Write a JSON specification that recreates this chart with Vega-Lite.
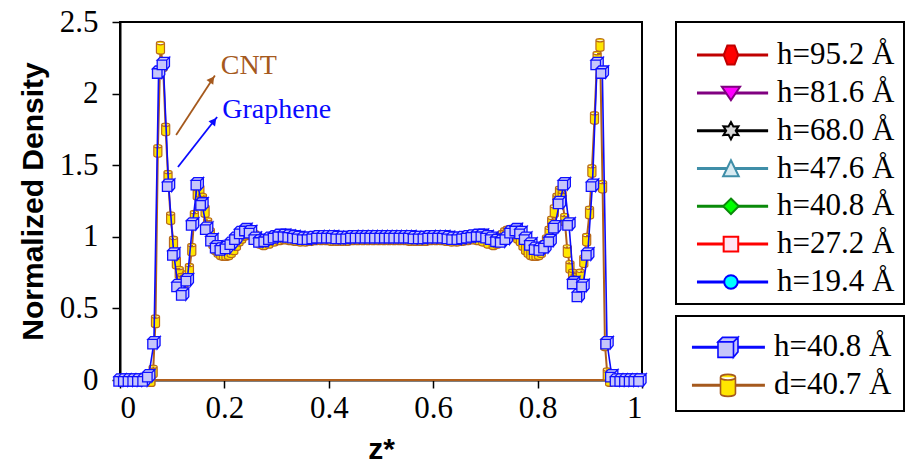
{
  "$schema": "https://vega.github.io/schema/vega-lite/v6.json",
  "background": "white",
  "padding": {"left": 17, "top": 5, "right": 1, "bottom": 2},
  "autosize": {"type": "pad"},
  "bounds": "flush",
  "spacing": 34,
  "config": {
    "view": {"stroke": "black", "strokeWidth": 2},
    "axis": {
      "grid": false,
      "domainColor": "black",
      "domainWidth": 2,
      "tickColor": "black",
      "tickWidth": 1.5,
      "tickSize": 8,
      "labelFont": "Liberation Serif",
      "labelFontSize": 31,
      "labelColor": "black",
      "labelPadding": 4,
      "titleFont": "Liberation Sans",
      "titleFontSize": 30,
      "titleFontWeight": "bold",
      "titleColor": "black"
    }
  },
  "datasets": {
    "graphene": [
      {"z": 0.000, "v": 0}, {"z": 0.009, "v": 0}, {"z": 0.018, "v": 0}, {"z": 0.027, "v": 0}, {"z": 0.036, "v": 0}, {"z": 0.046, "v": 0},
      {"z": 0.055, "v": 0.03}, {"z": 0.065, "v": 0.26}, {"z": 0.074, "v": 2.15}, {"z": 0.083, "v": 2.21}, {"z": 0.093, "v": 1.36},
      {"z": 0.103, "v": 0.88}, {"z": 0.111, "v": 0.66}, {"z": 0.120, "v": 0.60}, {"z": 0.129, "v": 0.70}, {"z": 0.139, "v": 1.09},
      {"z": 0.148, "v": 1.37}, {"z": 0.157, "v": 1.23}, {"z": 0.166, "v": 1.06}, {"z": 0.176, "v": 0.98}, {"z": 0.185, "v": 0.93},
      {"z": 0.194, "v": 0.915}, {"z": 0.204, "v": 0.925}, {"z": 0.213, "v": 0.955}, {"z": 0.222, "v": 0.99}, {"z": 0.231, "v": 1.03},
      {"z": 0.241, "v": 1.05}, {"z": 0.250, "v": 1.035}, {"z": 0.259, "v": 0.99}, {"z": 0.268, "v": 0.97}, {"z": 0.278, "v": 0.975},
      {"z": 0.287, "v": 0.99}, {"z": 0.296, "v": 1.0}, {"z": 0.305, "v": 1.01}, {"z": 0.315, "v": 1.01}, {"z": 0.324, "v": 1.005},
      {"z": 0.333, "v": 1.0}, {"z": 0.342, "v": 0.995}, {"z": 0.352, "v": 0.99}, {"z": 0.361, "v": 0.99}, {"z": 0.370, "v": 0.995},
      {"z": 0.379, "v": 1.0}, {"z": 0.389, "v": 1.0}, {"z": 0.398, "v": 1.0}, {"z": 0.407, "v": 1.0}, {"z": 0.416, "v": 0.995},
      {"z": 0.426, "v": 0.995}, {"z": 0.435, "v": 0.995}, {"z": 0.444, "v": 1.0}, {"z": 0.453, "v": 1.0}, {"z": 0.463, "v": 1.0},
      {"z": 0.472, "v": 1.0}, {"z": 0.481, "v": 1.0}, {"z": 0.490, "v": 1.0}, {"z": 0.500, "v": 1.0}, {"z": 0.509, "v": 1.0},
      {"z": 0.518, "v": 1.0}, {"z": 0.527, "v": 1.0}, {"z": 0.537, "v": 1.0}, {"z": 0.546, "v": 1.0}, {"z": 0.555, "v": 1.0},
      {"z": 0.564, "v": 0.995}, {"z": 0.574, "v": 0.995}, {"z": 0.583, "v": 0.995}, {"z": 0.592, "v": 1.0}, {"z": 0.601, "v": 1.0},
      {"z": 0.611, "v": 1.0}, {"z": 0.620, "v": 1.0}, {"z": 0.629, "v": 0.995}, {"z": 0.638, "v": 0.99}, {"z": 0.648, "v": 0.99},
      {"z": 0.657, "v": 0.995}, {"z": 0.666, "v": 1.0}, {"z": 0.675, "v": 1.005}, {"z": 0.685, "v": 1.01}, {"z": 0.694, "v": 1.01},
      {"z": 0.703, "v": 1.0}, {"z": 0.712, "v": 0.99}, {"z": 0.722, "v": 0.975}, {"z": 0.731, "v": 0.97}, {"z": 0.740, "v": 0.99},
      {"z": 0.749, "v": 1.035}, {"z": 0.759, "v": 1.05}, {"z": 0.768, "v": 1.03}, {"z": 0.777, "v": 0.99}, {"z": 0.787, "v": 0.95},
      {"z": 0.796, "v": 0.92}, {"z": 0.805, "v": 0.915}, {"z": 0.814, "v": 0.93}, {"z": 0.824, "v": 0.975}, {"z": 0.833, "v": 1.07},
      {"z": 0.842, "v": 1.24}, {"z": 0.851, "v": 1.37}, {"z": 0.860, "v": 1.09}, {"z": 0.869, "v": 0.68}, {"z": 0.878, "v": 0.59},
      {"z": 0.887, "v": 0.66}, {"z": 0.896, "v": 0.88}, {"z": 0.905, "v": 1.36}, {"z": 0.914, "v": 2.21}, {"z": 0.924, "v": 2.15},
      {"z": 0.933, "v": 0.26}, {"z": 0.942, "v": 0.03}, {"z": 0.951, "v": 0}, {"z": 0.960, "v": 0}, {"z": 0.969, "v": 0},
      {"z": 0.978, "v": 0}, {"z": 0.987, "v": 0}, {"z": 0.996, "v": 0}
    ],
    "cnt": [
      {"o": 1, "z": 0.059, "v": 0}, {"o": 2, "z": 0.0635, "v": 0.06}, {"o": 3, "z": 0.068, "v": 0.41}, {"o": 4, "z": 0.0725, "v": 1.60},
      {"o": 5, "z": 0.0775, "v": 2.32}, {"o": 6, "z": 0.0825, "v": 2.20}, {"o": 7, "z": 0.0875, "v": 1.75}, {"o": 8, "z": 0.092, "v": 1.42},
      {"o": 9, "z": 0.097, "v": 1.13}, {"o": 10, "z": 0.1025, "v": 0.96}, {"o": 11, "z": 0.108, "v": 0.82}, {"o": 12, "z": 0.1135, "v": 0.75},
      {"o": 13, "z": 0.118, "v": 0.70}, {"o": 14, "z": 0.123, "v": 0.69}, {"o": 15, "z": 0.128, "v": 0.72}, {"o": 16, "z": 0.133, "v": 0.77},
      {"o": 17, "z": 0.1375, "v": 0.91}, {"o": 18, "z": 0.1425, "v": 1.14}, {"o": 19, "z": 0.148, "v": 1.30}, {"o": 20, "z": 0.153, "v": 1.32},
      {"o": 21, "z": 0.158, "v": 1.26}, {"o": 22, "z": 0.163, "v": 1.18}, {"o": 23, "z": 0.168, "v": 1.09}, {"o": 24, "z": 0.173, "v": 1.02},
      {"o": 25, "z": 0.178, "v": 0.96}, {"o": 26, "z": 0.183, "v": 0.92}, {"o": 27, "z": 0.188, "v": 0.90}, {"o": 28, "z": 0.193, "v": 0.885},
      {"o": 29, "z": 0.198, "v": 0.88}, {"o": 30, "z": 0.203, "v": 0.88}, {"o": 31, "z": 0.208, "v": 0.885}, {"o": 32, "z": 0.213, "v": 0.90},
      {"o": 33, "z": 0.218, "v": 0.92}, {"o": 34, "z": 0.223, "v": 0.95}, {"o": 35, "z": 0.228, "v": 0.98}, {"o": 36, "z": 0.233, "v": 1.00},
      {"o": 37, "z": 0.238, "v": 1.02}, {"o": 38, "z": 0.243, "v": 1.03}, {"o": 39, "z": 0.248, "v": 1.03}, {"o": 40, "z": 0.253, "v": 1.02},
      {"o": 41, "z": 0.258, "v": 1.00}, {"o": 42, "z": 0.263, "v": 0.98}, {"o": 43, "z": 0.268, "v": 0.965}, {"o": 44, "z": 0.275, "v": 0.955},
      {"o": 45, "z": 0.285, "v": 0.965}, {"o": 46, "z": 0.295, "v": 0.98}, {"o": 47, "z": 0.305, "v": 0.99}, {"o": 48, "z": 0.315, "v": 0.995},
      {"o": 49, "z": 0.325, "v": 0.99}, {"o": 50, "z": 0.335, "v": 0.985}, {"o": 51, "z": 0.345, "v": 0.98}, {"o": 52, "z": 0.355, "v": 0.98},
      {"o": 53, "z": 0.365, "v": 0.985}, {"o": 54, "z": 0.375, "v": 0.99}, {"o": 55, "z": 0.385, "v": 0.99}, {"o": 56, "z": 0.395, "v": 0.99},
      {"o": 57, "z": 0.405, "v": 0.985}, {"o": 58, "z": 0.415, "v": 0.985}, {"o": 59, "z": 0.425, "v": 0.985}, {"o": 60, "z": 0.435, "v": 0.985},
      {"o": 61, "z": 0.445, "v": 0.99}, {"o": 62, "z": 0.455, "v": 0.99}, {"o": 63, "z": 0.465, "v": 0.99}, {"o": 64, "z": 0.475, "v": 0.99},
      {"o": 65, "z": 0.485, "v": 0.99}, {"o": 66, "z": 0.495, "v": 0.99}, {"o": 67, "z": 0.505, "v": 0.99}, {"o": 68, "z": 0.515, "v": 0.99},
      {"o": 69, "z": 0.525, "v": 0.99}, {"o": 70, "z": 0.535, "v": 0.99}, {"o": 71, "z": 0.545, "v": 0.99}, {"o": 72, "z": 0.555, "v": 0.985},
      {"o": 73, "z": 0.565, "v": 0.985}, {"o": 74, "z": 0.575, "v": 0.985}, {"o": 75, "z": 0.585, "v": 0.985}, {"o": 76, "z": 0.595, "v": 0.99},
      {"o": 77, "z": 0.605, "v": 0.99}, {"o": 78, "z": 0.615, "v": 0.99}, {"o": 79, "z": 0.625, "v": 0.985}, {"o": 80, "z": 0.635, "v": 0.98},
      {"o": 81, "z": 0.645, "v": 0.98}, {"o": 82, "z": 0.655, "v": 0.985}, {"o": 83, "z": 0.665, "v": 0.99}, {"o": 84, "z": 0.675, "v": 0.995},
      {"o": 85, "z": 0.685, "v": 0.99}, {"o": 86, "z": 0.695, "v": 0.98}, {"o": 87, "z": 0.705, "v": 0.965}, {"o": 88, "z": 0.715, "v": 0.955},
      {"o": 89, "z": 0.722, "v": 0.965}, {"o": 90, "z": 0.727, "v": 0.98}, {"o": 91, "z": 0.732, "v": 1.00}, {"o": 92, "z": 0.737, "v": 1.02},
      {"o": 93, "z": 0.742, "v": 1.03}, {"o": 94, "z": 0.747, "v": 1.035}, {"o": 95, "z": 0.752, "v": 1.03}, {"o": 96, "z": 0.757, "v": 1.02},
      {"o": 97, "z": 0.762, "v": 1.00}, {"o": 98, "z": 0.767, "v": 0.98}, {"o": 99, "z": 0.772, "v": 0.95}, {"o": 100, "z": 0.777, "v": 0.92},
      {"o": 101, "z": 0.782, "v": 0.90}, {"o": 102, "z": 0.787, "v": 0.885}, {"o": 103, "z": 0.792, "v": 0.88}, {"o": 104, "z": 0.797, "v": 0.88},
      {"o": 105, "z": 0.802, "v": 0.885}, {"o": 106, "z": 0.807, "v": 0.90}, {"o": 107, "z": 0.812, "v": 0.93}, {"o": 108, "z": 0.817, "v": 0.97},
      {"o": 109, "z": 0.822, "v": 1.03}, {"o": 110, "z": 0.827, "v": 1.10}, {"o": 111, "z": 0.832, "v": 1.18}, {"o": 112, "z": 0.837, "v": 1.26},
      {"o": 113, "z": 0.842, "v": 1.31}, {"o": 114, "z": 0.847, "v": 1.28}, {"o": 115, "z": 0.852, "v": 1.12}, {"o": 116, "z": 0.857, "v": 0.90},
      {"o": 117, "z": 0.862, "v": 0.79}, {"o": 118, "z": 0.867, "v": 0.73}, {"o": 119, "z": 0.872, "v": 0.70}, {"o": 120, "z": 0.877, "v": 0.69},
      {"o": 121, "z": 0.882, "v": 0.73}, {"o": 122, "z": 0.8885, "v": 0.83}, {"o": 123, "z": 0.894, "v": 0.98}, {"o": 124, "z": 0.8995, "v": 1.17},
      {"o": 125, "z": 0.904, "v": 1.46}, {"o": 126, "z": 0.909, "v": 1.83}, {"o": 127, "z": 0.914, "v": 2.25}, {"o": 128, "z": 0.9195, "v": 2.34},
      {"o": 129, "z": 0.9245, "v": 1.35}, {"o": 130, "z": 0.929, "v": 0.25}, {"o": 131, "z": 0.9335, "v": 0.04}, {"o": 132, "z": 0.938, "v": 0},
      {"o": 133, "z": 0.059, "v": 0}
    ],
    "arrows": [
      {"who": "CNT", "z": 0.1075, "v": 1.711, "z2": 0.1818, "v2": 2.127, "hz": 0.1762, "hv": 2.099},
      {"who": "Graphene", "z": 0.111, "v": 1.487, "z2": 0.186, "v2": 1.837, "hz": 0.1801, "hv": 1.809}
    ],
    "notes": [
      {"who": "CNT", "z": 0.193, "v": 2.19},
      {"who": "Graphene", "z": 0.196, "v": 1.886}
    ],
    "legend1": [
      {"label": "h=95.2 Å"}, {"label": "h=81.6 Å"}, {"label": "h=68.0 Å"}, {"label": "h=47.6 Å"},
      {"label": "h=40.8 Å"}, {"label": "h=27.2 Å"}, {"label": "h=19.4 Å"}
    ],
    "legend2": [
      {"label": "h=40.8 Å"}, {"label": "d=40.7 Å"}
    ]
  },
  "resolve": {"scale": {"color": "independent", "stroke": "independent", "fill": "independent", "shape": "independent", "size": "independent"}},
  "hconcat": [
    {
      "width": 522,
      "height": 358,
      "encoding": {
        "x": {"field": "z", "type": "quantitative", "scale": {"domain": [0, 1], "nice": false},
          "axis": {"title": "z*", "values": [0, 0.2, 0.4, 0.6, 0.8, 1], "format": "~g", "labelPadding": 5, "titlePadding": 11}},
        "y": {"field": "v", "type": "quantitative", "scale": {"domain": [0, 2.5], "nice": false},
          "axis": {"title": "Normalized Density", "values": [0, 0.5, 1, 1.5, 2, 2.5], "format": "~g", "labelPadding": 14, "titlePadding": 11}}
      },
      "layer": [
        {
          "data": {"name": "cnt"},
          "mark": {"type": "line", "color": "#b0601e", "strokeWidth": 2},
          "encoding": {"order": {"field": "o", "type": "quantitative"}}
        },
        {
          "data": {"name": "cnt"},
          "mark": {"type": "point", "filled": true, "opacity": 1, "fill": "#ffe600", "stroke": "#b8691b", "strokeWidth": 1.2, "size": 169,
            "shape": "M -0.62 -0.72 A 0.62 0.26 0 0 1 0.62 -0.72 L 0.62 0.72 A 0.62 0.26 0 0 1 -0.62 0.72 Z M -0.62 -0.72 A 0.62 0.26 0 0 0 0.62 -0.72"}
        },
        {
          "data": {"name": "graphene"},
          "mark": {"type": "line", "color": "#0a0aff", "strokeWidth": 1.6}
        },
        {
          "data": {"name": "graphene"},
          "mark": {"type": "point", "filled": true, "opacity": 1, "fill": "#c6c6fa", "stroke": "#1010ff", "strokeWidth": 1.3, "size": 150,
            "shape": "M -1 -0.55 L 0.55 -0.55 L 0.55 1 L -1 1 Z M -1 -0.55 L -0.55 -1 L 1 -1 L 0.55 -0.55 Z M 0.55 -0.55 L 1 -1 L 1 0.45 L 0.55 1 Z"}
        },
        {
          "data": {"name": "arrows"},
          "mark": {"type": "rule", "strokeWidth": 1.8},
          "encoding": {
            "x2": {"field": "z2"},
            "y2": {"field": "v2"},
            "color": {"field": "who", "type": "nominal", "scale": {"domain": ["CNT", "Graphene"], "range": ["#a5591d", "#0a0aff"]}, "legend": null}
          }
        },
        {
          "data": {"name": "arrows"},
          "transform": [{"filter": "datum.who === 'CNT'"}],
          "mark": {"type": "point", "shape": "triangle-up", "filled": true, "opacity": 1, "color": "#a5591d", "size": 70, "angle": 36},
          "encoding": {"x": {"field": "hz", "type": "quantitative"}, "y": {"field": "hv", "type": "quantitative"}}
        },
        {
          "data": {"name": "arrows"},
          "transform": [{"filter": "datum.who === 'Graphene'"}],
          "mark": {"type": "point", "shape": "triangle-up", "filled": true, "opacity": 1, "color": "#0a0aff", "size": 70, "angle": 38},
          "encoding": {"x": {"field": "hz", "type": "quantitative"}, "y": {"field": "hv", "type": "quantitative"}}
        },
        {
          "data": {"name": "notes"},
          "mark": {"type": "text", "align": "left", "baseline": "middle", "font": "Liberation Serif", "fontSize": 28},
          "encoding": {
            "text": {"field": "who"},
            "color": {"field": "who", "type": "nominal", "scale": {"domain": ["CNT", "Graphene"], "range": ["#a5591d", "#0a0aff"]}, "legend": null}
          }
        }
      ]
    },
    {
      "spacing": 12,
      "bounds": "flush",
      "resolve": {"scale": {"stroke": "independent", "fill": "independent", "shape": "independent", "size": "independent"}},
      "vconcat": [
        {
          "width": 228,
          "height": 282,
          "data": {"name": "legend1"},
          "encoding": {
            "y": {"field": "label", "type": "nominal", "axis": null,
              "scale": {"type": "point", "domain": ["h=95.2 Å", "h=81.6 Å", "h=68.0 Å", "h=47.6 Å", "h=40.8 Å", "h=27.2 Å", "h=19.4 Å"], "padding": 0.73, "align": 0.6}}
          },
          "layer": [
            {
              "mark": {"type": "rule", "strokeWidth": 3},
              "encoding": {
                "x": {"datum": 0.092, "type": "quantitative", "scale": {"domain": [0, 1]}, "axis": null},
                "x2": {"datum": 0.404},
                "stroke": {"field": "label", "type": "nominal", "legend": null,
                  "scale": {"domain": ["h=95.2 Å", "h=81.6 Å", "h=68.0 Å", "h=47.6 Å", "h=40.8 Å", "h=27.2 Å", "h=19.4 Å"],
                    "range": ["#c00000", "#800080", "#000000", "#3f8ea8", "#0a8a0a", "#ff0000", "#0000ff"]}}
              }
            },
            {
              "mark": {"type": "point", "filled": true, "opacity": 1, "strokeWidth": 2},
              "encoding": {
                "x": {"datum": 0.241, "type": "quantitative", "scale": {"domain": [0, 1]}, "axis": null},
                "shape": {"field": "label", "type": "nominal", "legend": null,
                  "scale": {"domain": ["h=95.2 Å", "h=81.6 Å", "h=68.0 Å", "h=47.6 Å", "h=40.8 Å", "h=27.2 Å", "h=19.4 Å"],
                    "range": [
                      "M -0.38 -1 L 0.38 -1 L 0.76 0 L 0.38 1 L -0.38 1 L -0.76 0 Z",
                      "M -1 -0.68 L 1 -0.68 L 0 0.8 Z",
                      "M 0 -1 L 0.275 -0.476 L 0.866 -0.5 L 0.55 0 L 0.866 0.5 L 0.275 0.476 L 0 1 L -0.275 0.476 L -0.866 0.5 L -0.55 0 L -0.866 -0.5 L -0.275 -0.476 Z",
                      "M 0 -1 L 0.95 0.95 L -0.95 0.95 Z",
                      "M 0 -1 L 1 0 L 0 1 L -1 0 Z",
                      "M -1 -1 L 1 -1 L 1 1 L -1 1 Z",
                      "circle"
                    ]}},
                "size": {"field": "label", "type": "nominal", "legend": null,
                  "scale": {"domain": ["h=95.2 Å", "h=81.6 Å", "h=68.0 Å", "h=47.6 Å", "h=40.8 Å", "h=27.2 Å", "h=19.4 Å"],
                    "range": [361, 182, 324, 144, 121, 110, 380]}},
                "fill": {"field": "label", "type": "nominal", "legend": null,
                  "scale": {"domain": ["h=95.2 Å", "h=81.6 Å", "h=68.0 Å", "h=47.6 Å", "h=40.8 Å", "h=27.2 Å", "h=19.4 Å"],
                    "range": ["#ff0000", "#ff00ff", "#d9d9d9", "#d8ebf2", "#00ff00", "#ffe4f4", "#00ffff"]}},
                "stroke": {"field": "label", "type": "nominal", "legend": null,
                  "scale": {"domain": ["h=95.2 Å", "h=81.6 Å", "h=68.0 Å", "h=47.6 Å", "h=40.8 Å", "h=27.2 Å", "h=19.4 Å"],
                    "range": ["#8b0000", "#800080", "#000000", "#3f8ea8", "#0a8a0a", "#ff0000", "#0000ff"]}}
              }
            },
            {
              "mark": {"type": "text", "align": "left", "baseline": "middle", "font": "Liberation Serif", "fontSize": 31, "color": "black"},
              "encoding": {
                "x": {"datum": 0.443, "type": "quantitative", "scale": {"domain": [0, 1]}, "axis": null},
                "text": {"field": "label"}
              }
            }
          ]
        },
        {
          "width": 228,
          "height": 95,
          "data": {"name": "legend2"},
          "encoding": {
            "y": {"field": "label", "type": "nominal", "axis": null,
              "scale": {"type": "point", "domain": ["h=40.8 Å", "d=40.7 Å"], "padding": 0.75, "align": 0.55}}
          },
          "layer": [
            {
              "mark": {"type": "rule", "strokeWidth": 3},
              "encoding": {
                "x": {"datum": 0.07, "type": "quantitative", "scale": {"domain": [0, 1]}, "axis": null},
                "x2": {"datum": 0.39},
                "stroke": {"field": "label", "type": "nominal", "legend": null,
                  "scale": {"domain": ["h=40.8 Å", "d=40.7 Å"], "range": ["#0a0aff", "#a5591d"]}}
              }
            },
            {
              "mark": {"type": "point", "filled": true, "opacity": 1, "strokeWidth": 1.6},
              "encoding": {
                "x": {"datum": 0.228, "type": "quantitative", "scale": {"domain": [0, 1]}, "axis": null},
                "shape": {"field": "label", "type": "nominal", "legend": null,
                  "scale": {"domain": ["h=40.8 Å", "d=40.7 Å"],
                    "range": [
                      "M -1 -0.55 L 0.55 -0.55 L 0.55 1 L -1 1 Z M -1 -0.55 L -0.55 -1 L 1 -1 L 0.55 -0.55 Z M 0.55 -0.55 L 1 -1 L 1 0.45 L 0.55 1 Z",
                      "M -0.68 -0.74 A 0.68 0.26 0 0 1 0.68 -0.74 L 0.68 0.74 A 0.68 0.26 0 0 1 -0.68 0.74 Z M -0.68 -0.74 A 0.68 0.26 0 0 0 0.68 -0.74"
                    ]}},
                "size": {"field": "label", "type": "nominal", "legend": null,
                  "scale": {"domain": ["h=40.8 Å", "d=40.7 Å"], "range": [400, 484]}},
                "fill": {"field": "label", "type": "nominal", "legend": null,
                  "scale": {"domain": ["h=40.8 Å", "d=40.7 Å"], "range": ["#c6c6fa", "#ffe600"]}},
                "stroke": {"field": "label", "type": "nominal", "legend": null,
                  "scale": {"domain": ["h=40.8 Å", "d=40.7 Å"], "range": ["#1010ff", "#b8691b"]}}
              }
            },
            {
              "mark": {"type": "text", "align": "left", "baseline": "middle", "font": "Liberation Serif", "fontSize": 31, "color": "black"},
              "encoding": {
                "x": {"datum": 0.43, "type": "quantitative", "scale": {"domain": [0, 1]}, "axis": null},
                "text": {"field": "label"}
              }
            }
          ]
        }
      ]
    }
  ]
}
